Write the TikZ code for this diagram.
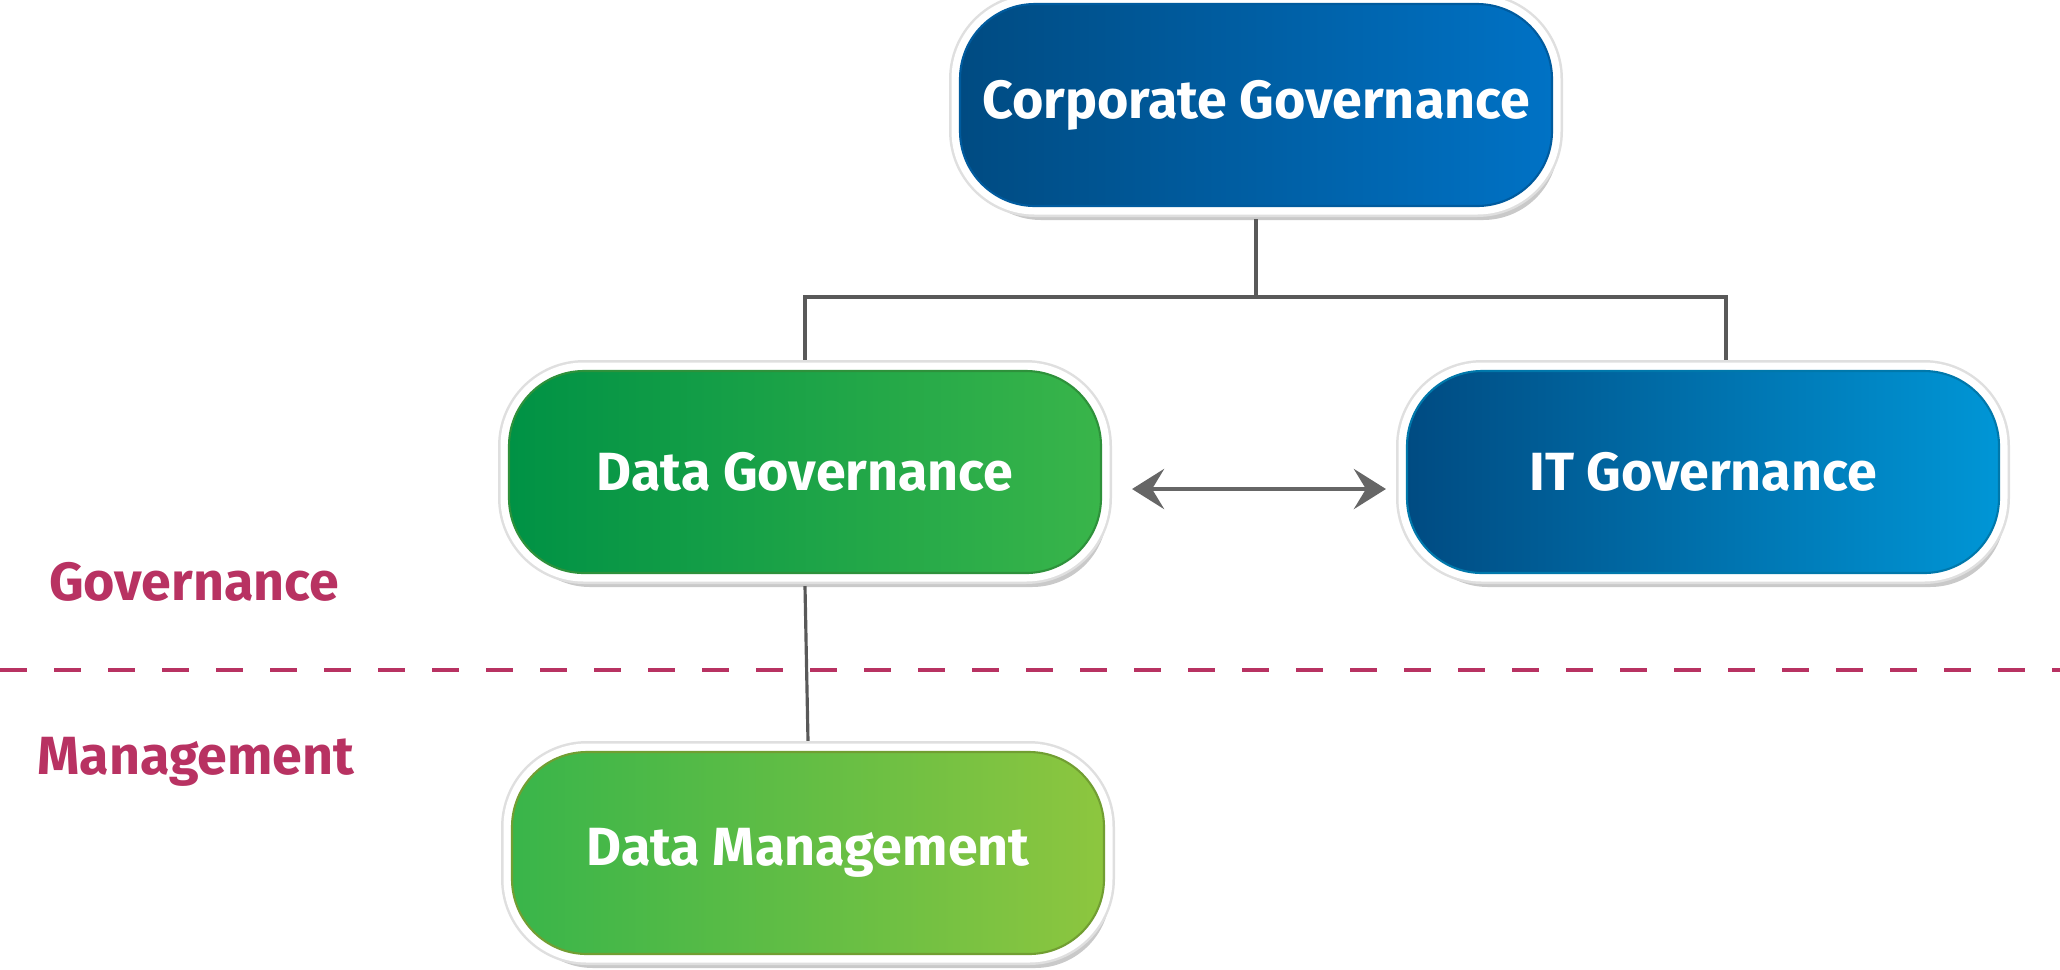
\documentclass[tikz,border=0pt]{standalone}
\usepackage{fontspec}
\setmainfont{Fira Sans}
\usepackage{tikz}
\usetikzlibrary{arrows.meta}
\usetikzlibrary{calc,shapes,shadows}

\definecolor{cgL}{RGB}{0,75,130}
\definecolor{cgR}{RGB}{0,114,197}
\definecolor{itL}{RGB}{0,75,130}
\definecolor{itR}{RGB}{0,150,214}
\definecolor{dgL}{RGB}{0,146,69}
\definecolor{dgR}{RGB}{57,181,74}
\definecolor{dmL}{RGB}{57,181,74}
\definecolor{dmR}{RGB}{141,198,63}
\definecolor{lvl}{RGB}{184,50,98}
\newcommand{\boxfont}{\fontsize{15.3}{17}\selectfont\bfseries}

\tikzset{
  rim/.style={preaction={draw=gray!25, line width=0.22cm},
              preaction={draw=white, line width=0.17cm}},
  govbox/.style={rounded corners=0.75cm, minimum width=5.92cm, minimum height=2.02cm,
                 text=white, font=\boxfont, line width=0.6pt,
                 drop shadow={shadow xshift=0.06cm, shadow yshift=-0.14cm, opacity=0.3, fill=black!70},
                 rim},
  conn/.style={draw=black!65, line width=0.9pt},
  lvltext/.style={text=lvl, font=\boxfont}
}

\begin{document}
\begin{tikzpicture}
			\useasboundingbox (0,0) rectangle (20.6,-9.69);
			% layer split
			\draw [lvl, line width=1.3pt, dash pattern=on 0.27cm off 0.27cm] (0,-6.70) -- (20.6,-6.70);
			\node [lvltext] (gov) at (1.94,-5.82) {Governance};
			\node [lvltext] (mgmt) at (1.96,-7.62) {Management};

			\node [govbox, left color=cgL, right color=cgR, draw=cgR!80!black] (cg) at (12.56,-1.05) {Corporate Governance};
			\node [govbox, left color=dgL, right color=dgR, draw=dgR!80!black] (dg) at (8.05,-4.72) {Data Governance};
			\node [govbox, left color=itL, right color=itR, draw=itR!80!black] (itg) at (17.03,-4.72) {IT Governance};
			\node [govbox, left color=dmL, right color=dmR, draw=dmR!80!black] (dm) at (8.08,-8.53) {Data Management};

			% tree lines
			\draw [conn] ([yshift=-0.12cm]cg.south) -- ++(0,-0.78) coordinate (split);
			\draw [conn] ([yshift=0.1cm]dg.north) |- (split) -| ([xshift=0.23cm,yshift=0.1cm]itg.north);
			\draw [conn] ([yshift=-0.12cm]dg.south) -- ([yshift=0.1cm]dm.north);
			\draw [{Stealth[length=0.32cm,width=0.4cm,inset=0.12cm]}-{Stealth[length=0.32cm,width=0.4cm,inset=0.12cm]}, draw=black!60, fill=black!60, line width=1.4pt]
				([shift={(0.3,-0.17)}]dg.east) -- ([shift={(-0.2,-0.17)}]itg.west);
			\end{tikzpicture}
\end{document}
